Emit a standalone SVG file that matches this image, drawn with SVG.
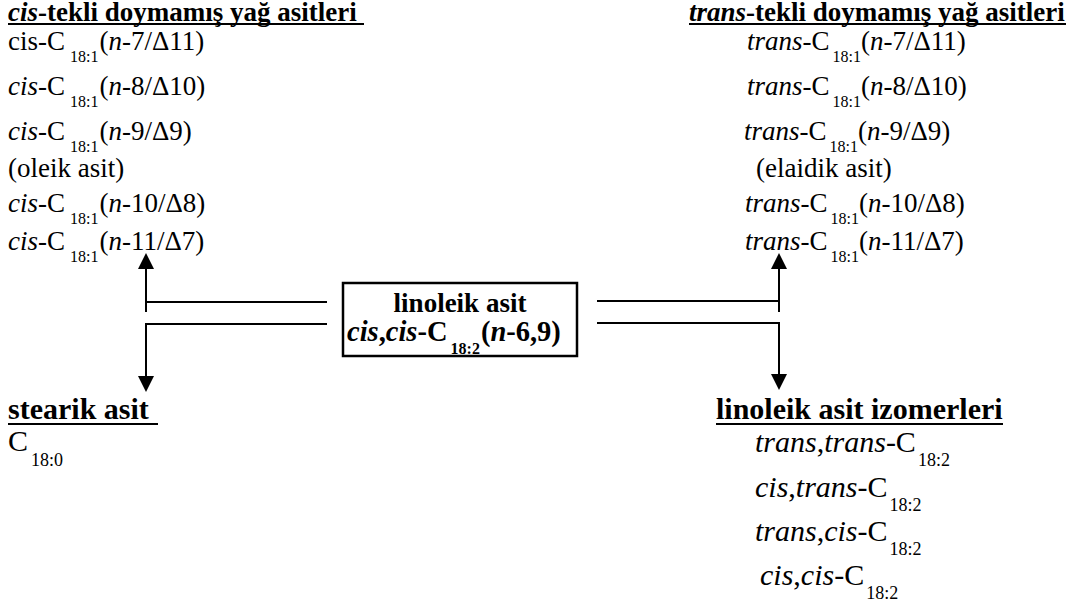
<svg xmlns="http://www.w3.org/2000/svg" width="1076" height="608" viewBox="0 0 1076 608">
<style>
text{font-family:'Liberation Serif','DejaVu Serif',serif;font-size:27px;fill:#000}
.b{font-weight:bold}
.i{font-style:italic}
.s{font-size:16px}
.m{font-size:28.5px}
.L{font-size:30px}
.sl{font-size:18px}
.ul{stroke:#000;stroke-width:2}
.c{fill:none;stroke:#000;stroke-width:2}
.box{fill:#fff;stroke:#000;stroke-width:2.5}
</style>
<defs>
<marker id="ah" viewBox="0 0 16 16" markerUnits="userSpaceOnUse" markerWidth="16" markerHeight="16" refX="6" refY="8" orient="auto">
<path d="M0,0 L16,8 L0,16 z" fill="#000"/>
</marker>
</defs>
<rect width="1076" height="608" fill="#fff"/>

<g id="cis-mono">
<text class="b" x="8" y="21"><tspan class="i">cis</tspan>-tekli doymamış yağ asitleri</text>
<line class="ul" x1="8" y1="24" x2="364" y2="24"/>
<text x="8" y="50">cis-C<tspan class="s" dx="5" dy="12">18:1</tspan><tspan dx="1" dy="-12">(</tspan><tspan class="i">n</tspan>-7/Δ11)</text>
<text x="8" y="95"><tspan class="i">cis</tspan>-C<tspan class="s" dx="5" dy="12">18:1</tspan><tspan dx="1" dy="-12">(</tspan><tspan class="i">n</tspan>-8/Δ10)</text>
<text x="8" y="140"><tspan class="i">cis</tspan>-C<tspan class="s" dx="5" dy="12">18:1</tspan><tspan dx="1" dy="-12">(</tspan><tspan class="i">n</tspan>-9/Δ9)</text>
<text x="8" y="177">(oleik asit)</text>
<text x="8" y="212"><tspan class="i">cis</tspan>-C<tspan class="s" dx="5" dy="12">18:1</tspan><tspan dx="1" dy="-12">(</tspan><tspan class="i">n</tspan>-10/Δ8)</text>
<text x="8" y="250"><tspan class="i">cis</tspan>-C<tspan class="s" dx="5" dy="12">18:1</tspan><tspan dx="1" dy="-12">(</tspan><tspan class="i">n</tspan>-11/Δ7)</text>
</g>

<g id="trans-mono">
<text class="b" x="689" y="21"><tspan class="i">trans</tspan>-tekli doymamış yağ asitleri</text>
<line class="ul" x1="689" y1="24" x2="1066" y2="24"/>
<text x="747" y="50"><tspan class="i">trans</tspan>-C<tspan class="s" dx="3" dy="12">18:1</tspan><tspan dy="-12">(</tspan><tspan class="i">n</tspan>-7/Δ11)</text>
<text x="747" y="95"><tspan class="i">trans</tspan>-C<tspan class="s" dx="3" dy="12">18:1</tspan><tspan dy="-12">(</tspan><tspan class="i">n</tspan>-8/Δ10)</text>
<text x="744" y="140"><tspan class="i">trans</tspan>-C<tspan class="s" dx="3" dy="12">18:1</tspan><tspan dy="-12">(</tspan><tspan class="i">n</tspan>-9/Δ9)</text>
<text x="756" y="177">(elaidik asit)</text>
<text x="745" y="212"><tspan class="i">trans</tspan>-C<tspan class="s" dx="3" dy="12">18:1</tspan><tspan dy="-12">(</tspan><tspan class="i">n</tspan>-10/Δ8)</text>
<text x="745" y="250"><tspan class="i">trans</tspan>-C<tspan class="s" dx="3" dy="12">18:1</tspan><tspan dy="-12">(</tspan><tspan class="i">n</tspan>-11/Δ7)</text>
</g>

<g id="linoleic">
<rect class="box" x="343" y="283" width="234" height="73"/>
<text class="b" x="460" y="312" text-anchor="middle">linoleik asit</text>
<text class="b m" x="347" y="341"><tspan class="i">cis</tspan>,<tspan class="i">cis</tspan>-C<tspan class="s" dx="3" dy="13">18:2</tspan><tspan dx="1" dy="-13">(</tspan><tspan class="i">n</tspan>-6,9)</text>
</g>

<g id="stearic">
<text class="b L" x="8" y="419">stearik asit</text>
<line class="ul" x1="8" y1="424" x2="158" y2="424"/>
<text class="L" x="8" y="451">C<tspan class="sl" dx="3" dy="15">18:0</tspan></text>
</g>

<g id="isomers">
<text class="b L" x="716" y="419">linoleik asit izomerleri</text>
<line class="ul" x1="716" y1="424" x2="1003" y2="424"/>
<text class="L" x="755" y="452"><tspan class="i">trans</tspan>,<tspan class="i">trans</tspan>-C<tspan class="sl" dx="2" dy="14">18:2</tspan></text>
<text class="L" x="755" y="497"><tspan class="i">cis</tspan>,<tspan class="i">trans</tspan>-C<tspan class="sl" dx="2" dy="14">18:2</tspan></text>
<text class="L" x="755" y="541"><tspan class="i">trans</tspan>,<tspan class="i">cis</tspan>-C<tspan class="sl" dx="2" dy="14">18:2</tspan></text>
<text class="L" x="760" y="585"><tspan class="i">cis</tspan>,<tspan class="i">cis</tspan>-C<tspan class="sl" dx="2" dy="14">18:2</tspan></text>
</g>

<g id="connectors">
<path class="c" d="M327,302 H146"/>
<path class="c" d="M146,312 V263" marker-end="url(#ah)"/>
<path class="c" d="M327,324 H146 V382" marker-end="url(#ah)"/>
<path class="c" d="M597,301 H779"/>
<path class="c" d="M779,312 V263" marker-end="url(#ah)"/>
<path class="c" d="M597,323 H779 V380" marker-end="url(#ah)"/>
</g>
</svg>
